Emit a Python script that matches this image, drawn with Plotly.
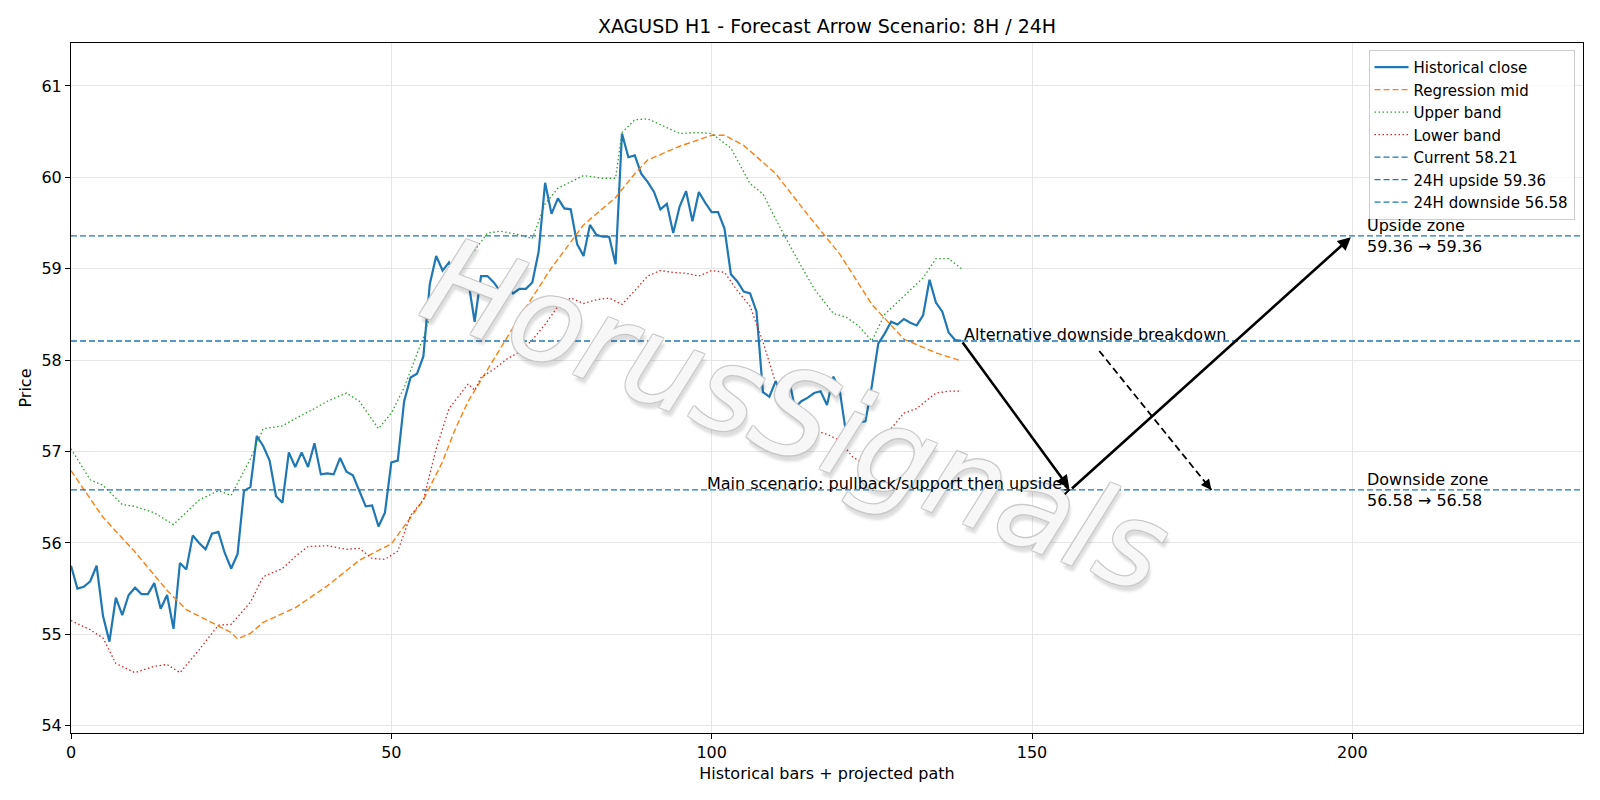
import plotly.graph_objects as go

# ---------------- data ----------------
close = [55.75, 55.50, 55.52, 55.58, 55.75, 55.20, 54.92, 55.40, 55.21, 55.43,
         55.51, 55.44, 55.44, 55.56, 55.28, 55.43, 55.06, 55.78, 55.71, 56.08,
         56.00, 55.93, 56.10, 56.12, 55.89, 55.72, 55.88, 56.57, 56.61, 57.17,
         57.06, 56.90, 56.51, 56.44, 56.99, 56.83, 56.99, 56.83, 57.09, 56.75,
         56.76, 56.75, 56.93, 56.78, 56.74, 56.58, 56.40, 56.41, 56.18, 56.33,
         56.88, 56.90, 57.55, 57.81, 57.85, 58.04, 58.83, 59.14, 58.98, 59.07,
         58.90, 58.83, 58.87, 58.42, 58.92, 58.92, 58.85, 58.75, 58.83, 58.73,
         58.78, 58.78, 58.85, 59.19, 59.94, 59.60, 59.77, 59.66, 59.65, 59.27,
         59.14, 59.48, 59.37, 59.35, 59.35, 59.05, 60.48, 60.22, 60.24, 60.04,
         59.95, 59.84, 59.65, 59.71, 59.39, 59.68, 59.85, 59.52, 59.84, 59.72,
         59.62, 59.62, 59.44, 58.94, 58.86, 58.75, 58.73, 58.53, 57.65, 57.60,
         57.77, 57.60, 57.81, 57.48, 57.55, 57.59, 57.64, 57.66, 57.51, 57.82,
         57.66, 57.19, 57.28, 57.32, 57.33, 57.72, 58.18, 58.29, 58.42, 58.39,
         58.45, 58.41, 58.38, 58.49, 58.88, 58.63, 58.53, 58.30, 58.22, 58.21]
bars = list(range(len(close)))

mid_x = [0, 5, 10, 15, 18, 20, 25, 26, 28, 30, 35, 40, 45, 50, 55, 58, 60, 62, 65,
         70, 75, 80, 85, 88, 90, 95, 100, 102, 105, 110, 115, 120, 125, 130, 135, 139]
mid_y = [56.79, 56.28, 55.90, 55.48, 55.27, 55.20, 55.02, 54.95, 55.01, 55.13, 55.29,
         55.53, 55.81, 55.99, 56.47, 56.89, 57.25, 57.55, 57.90, 58.47, 59.01, 59.48,
         59.78, 60.04, 60.19, 60.34, 60.46, 60.46, 60.35, 60.04, 59.59, 59.16, 58.61,
         58.23, 58.08, 57.99]

upper_x = [0, 3, 5, 8, 10, 13, 16, 18, 20, 23, 25, 28, 30, 33, 35, 38, 40, 43, 45,
           48, 50, 52, 55, 57, 60, 63, 65, 67, 70, 72, 74, 76, 80, 83, 85, 86, 88,
           90, 93, 95, 98, 100, 103, 106, 108, 110, 113, 116, 119, 121, 123, 125,
           127, 130, 133, 135, 137, 139]
upper_y = [57.03, 56.69, 56.63, 56.42, 56.40, 56.33, 56.20, 56.33, 56.47, 56.57,
           56.52, 56.92, 57.25, 57.28, 57.36, 57.47, 57.55, 57.64, 57.55, 57.25,
           57.42, 57.70, 58.25, 58.70, 59.04, 59.20, 59.39, 59.41, 59.37, 59.33,
           59.71, 59.88, 60.02, 59.99, 59.99, 60.49, 60.63, 60.64, 60.54, 60.48,
           60.49, 60.48, 60.32, 59.93, 59.82, 59.54, 59.15, 58.78, 58.51, 58.47,
           58.37, 58.21, 58.50, 58.70, 58.90, 59.11, 59.11, 59.00]

lower_x = [0, 3, 5, 7, 10, 13, 15, 17, 20, 23, 25, 28, 30, 33, 35, 37, 40, 43, 45,
           47, 49, 51, 53, 55, 57, 59, 62, 63, 64, 66, 68, 70, 72, 74, 76, 78, 80,
           82, 84, 86, 88, 90, 92, 94, 96, 98, 100, 102, 104, 106, 108, 110, 112,
           115, 118, 120, 122, 124, 126, 128, 130, 132, 135, 137, 139]
lower_y = [55.15, 55.05, 54.96, 54.68, 54.58, 54.65, 54.67, 54.58, 54.83, 55.10,
           55.11, 55.35, 55.63, 55.72, 55.85, 55.96, 55.97, 55.93, 55.94, 55.83,
           55.82, 55.91, 56.30, 56.47, 57.03, 57.47, 57.74, 57.67, 57.81, 57.90,
           58.01, 58.09, 58.22, 58.39, 58.59, 58.68, 58.62, 58.66, 58.68, 58.61,
           58.76, 58.92, 58.98, 58.96, 58.95, 58.92, 58.98, 58.96, 58.76, 58.59,
           58.20, 57.75, 57.53, 57.25, 57.19, 57.12, 56.94, 56.86, 57.03, 57.25,
           57.42, 57.47, 57.64, 57.66, 57.66]

current = 58.21
upside = 59.36
downside = 56.58

# projected scenario path (bar index)
scenario_x = [139, 156, 200]
alt_x = [160.5, 178]          # dashed alternative arrow (start, end)
alt_start_y = 58.10
zone_label_x = 202
main_text_x = 155

x_ticks = [0, 50, 100, 150, 200]
y_ticks = [54, 55, 56, 57, 58, 59, 60, 61]
X_RANGE = [0, 236]
Y_RANGE = [53.92, 61.47]

BLUE = "#1f77b4"
ORANGE = "#ff7f0e"
GREEN = "#2ca02c"
RED = "#d62728"
FONT = "DejaVu Sans"
FS = 16

fig = go.Figure()

fig.add_trace(go.Scatter(x=bars, y=close, mode="lines", name="Historical close",
                         line=dict(color=BLUE, width=2.2)))
fig.add_trace(go.Scatter(x=mid_x, y=mid_y, mode="lines", name="Regression mid",
                         line=dict(color=ORANGE, width=1.4, dash="6px,3px")))
fig.add_trace(go.Scatter(x=upper_x, y=upper_y, mode="lines", name="Upper band",
                         line=dict(color=GREEN, width=1.3, dash="1.5px,2.5px")))
fig.add_trace(go.Scatter(x=lower_x, y=lower_y, mode="lines", name="Lower band",
                         line=dict(color=RED, width=1.3, dash="1.5px,2.5px")))

for val, label in [(current, f"Current {current:.2f}"),
                   (upside, f"24H upside {upside:.2f}"),
                   (downside, f"24H downside {downside:.2f}")]:
    fig.add_trace(go.Scatter(x=X_RANGE, y=[val, val], mode="lines", name=label,
                             line=dict(color=BLUE, width=1.4, dash="6px,3px")))

# dashed alternative path line
fig.add_trace(go.Scatter(x=alt_x, y=[alt_start_y, downside], mode="lines",
                         showlegend=False, hoverinfo="skip",
                         line=dict(color="black", width=1.8, dash="7px,4px")))

ann = []
# watermark (drawn first so the labels sit above it)
ann.append(dict(x=0.48, y=0.46, xref="paper", yref="paper", text="HorusSignals",
                showarrow=False, textangle=21, xanchor="center", yanchor="middle",
                font=dict(family=FONT, size=120, color="rgba(255,255,255,0.85)",
                          style="italic",
                          shadow="1px 1px 0 #c6c6c6, -1px -1px 0 #c6c6c6, 1px -1px 0 #c6c6c6, "
                                 "-1px 1px 0 #c6c6c6, 4px 5px 3px rgba(0,0,0,0.16)")))

# main scenario solid arrows
path_y = [current, downside, upside]
for i in range(2):
    ann.append(dict(x=scenario_x[i + 1], y=path_y[i + 1], ax=scenario_x[i], ay=path_y[i],
                    xref="x", yref="y", axref="x", ayref="y", text="", showarrow=True,
                    arrowhead=2, arrowsize=1.0, arrowwidth=2.6, arrowcolor="black",
                    standoff=2))
# arrowhead of the dashed alternative arrow
ann.append(dict(x=alt_x[1], y=downside, ax=alt_x[1] - 0.9, ay=downside + 0.08,
                xref="x", yref="y", axref="x", ayref="y", text="", showarrow=True,
                arrowhead=2, arrowsize=1.3, arrowwidth=1.6, arrowcolor="black"))
# small pointer from main text
ann.append(dict(x=scenario_x[1], y=downside, ax=main_text_x - 0.2, ay=downside,
                xref="x", yref="y", axref="x", ayref="y", text="", showarrow=True,
                arrowhead=4, arrowsize=1.4, arrowwidth=1.2, arrowcolor="black"))

ann.append(dict(x=main_text_x, y=downside, xref="x", yref="y",
                text="Main scenario: pullback/support then upside", showarrow=False,
                xanchor="right", yanchor="middle", yshift=6,
                font=dict(family=FONT, size=FS, color="black")))
ann.append(dict(x=scenario_x[0], y=current, xref="x", yref="y",
                text="Alternative downside breakdown", showarrow=False,
                xanchor="left", yanchor="middle", yshift=6,
                font=dict(family=FONT, size=FS, color="black")))
ann.append(dict(x=zone_label_x, y=upside, xref="x", yref="y",
                text=f"Upside zone<br>{upside:.2f} → {upside:.2f}", showarrow=False,
                xanchor="left", yanchor="middle", align="left",
                font=dict(family=FONT, size=FS, color="black")))
ann.append(dict(x=zone_label_x, y=downside, xref="x", yref="y",
                text=f"Downside zone<br>{downside:.2f} → {downside:.2f}", showarrow=False,
                xanchor="left", yanchor="middle", align="left",
                font=dict(family=FONT, size=FS, color="black")))

axis_common = dict(showline=True, mirror=True, linecolor="black", linewidth=1,
                   ticks="outside", ticklen=5, tickwidth=1, tickcolor="black",
                   showgrid=True, gridcolor="#e6e6e6", gridwidth=1, zeroline=False,
                   tickfont=dict(family=FONT, size=FS, color="black"))

fig.update_layout(
    width=1600, height=800,
    margin=dict(l=71, r=17, t=43, b=67),
    paper_bgcolor="white", plot_bgcolor="white",
    font=dict(family=FONT, size=FS, color="black"),
    title=dict(text="XAGUSD H1 - Forecast Arrow Scenario: 8H / 24H", x=0.5, xref="paper",
               y=1 - 26 / 800, yref="container", yanchor="middle", xanchor="center",
               font=dict(family=FONT, size=19, color="black")),
    xaxis=dict(range=X_RANGE, tickvals=x_ticks, ticktext=[str(v) for v in x_ticks],
               title=dict(text="Historical bars + projected path", standoff=6,
                          font=dict(family=FONT, size=FS)), **axis_common),
    yaxis=dict(range=Y_RANGE, tickvals=y_ticks, ticktext=[str(v) for v in y_ticks],
               title=dict(text="Price", standoff=5, font=dict(family=FONT, size=FS)),
               **axis_common),
    legend=dict(x=0.9944, y=0.99, xanchor="right", yanchor="top",
                bgcolor="rgba(255,255,255,0.8)", bordercolor="#cccccc", borderwidth=1,
                font=dict(family=FONT, size=15, color="black"), tracegroupgap=0,
                itemwidth=34),
    annotations=ann,
    showlegend=True,
)

fig.write_html("out.html")
